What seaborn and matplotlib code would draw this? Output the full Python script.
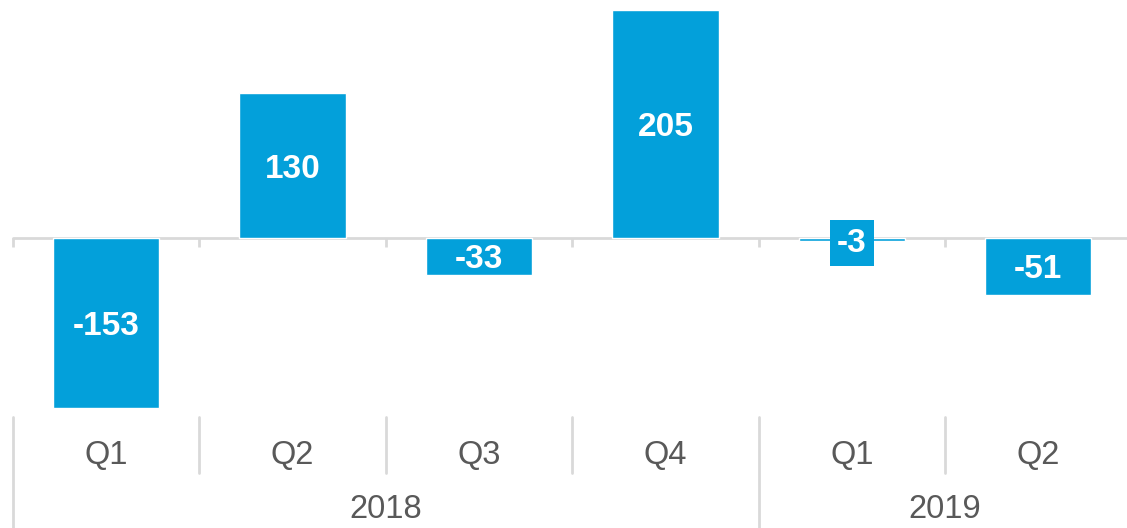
import matplotlib
matplotlib.use("Agg")
import matplotlib.pyplot as plt
import matplotlib.transforms as mtransforms
import seaborn as sns
import pandas as pd

quarters = ["Q1", "Q2", "Q3", "Q4", "Q1", "Q2"]
years = ["2018", "2018", "2018", "2018", "2019", "2019"]
values = [-153, 130, -33, 205, -3, -51]

BAR = "#03A0DA"
GRID = "#D9D9D9"
TXT = "#595959"

sns.set_theme(style="white")
plt.rcParams["font.family"] = ["Liberation Sans", "DejaVu Sans"]

df = pd.DataFrame({"period": [f"{y} {q}" for y, q in zip(years, quarters)],
                   "value": values})

W, H = 1127, 528
fig = plt.figure(figsize=(W / 100, H / 100), dpi=100)
left_px, right_px = 13, 13 + 6 * 186.4
top_px, bot_px = 0, 413
ax = fig.add_axes([left_px / W, 1 - bot_px / H, (right_px - left_px) / W, (bot_px - top_px) / H])

sns.barplot(data=df, x="period", y="value", color=BAR, saturation=1, width=0.57, ax=ax, zorder=3)

ax.set_xlim(-0.5, 5.5)
ax.set_ylim(-157.4, 214)
for s in ax.spines.values():
    s.set_visible(False)
ax.set_xticks([])
ax.set_yticks([])
ax.set_xlabel("")
ax.set_ylabel("")

# zero axis line and tick marks
ax.axhline(0, color=GRID, lw=2, zorder=2, clip_on=False)
n = len(values)
ax.vlines([i - 0.5 for i in range(n + 1)], -8.5, 0, color=GRID, lw=2, zorder=2, clip_on=False)

# bar labels
for i, v in enumerate(values):
    kw = {}
    if abs(v) < 20:
        kw["bbox"] = dict(boxstyle="square,pad=0.22", fc=BAR, ec="none")
    ax.text(i, v / 2, f"{v}", ha="center", va="center_baseline", color="white",
            fontsize=24, fontweight="bold", zorder=5, **kw)

# category axis below
trans = mtransforms.blended_transform_factory(ax.transData, fig.transFigure)
y_top = 1 - 417 / H
y_mid = 1 - 473 / H
for i in range(n + 1):
    x = i - 0.5
    is_year_sep = (i == 0) or (i == n) or (years[i] != years[i - 1])
    y0 = 0 if is_year_sep else y_mid
    ax.plot([x, x], [y_top, y0], transform=trans, color=GRID, lw=2, clip_on=False)

for i, q in enumerate(quarters):
    ax.text(i, 1 - 455 / H, q, transform=trans, ha="center", va="center",
            fontsize=23.5, color=TXT)

uniq = []
for y in years:
    if y not in uniq:
        uniq.append(y)
for y in uniq:
    idx = [i for i, yy in enumerate(years) if yy == y]
    xc = (idx[0] + idx[-1]) / 2
    ax.text(xc, 1 - 510 / H, y, transform=trans, ha="center", va="center",
            fontsize=23.5, color=TXT)

fig.savefig("out.png", dpi=100)
